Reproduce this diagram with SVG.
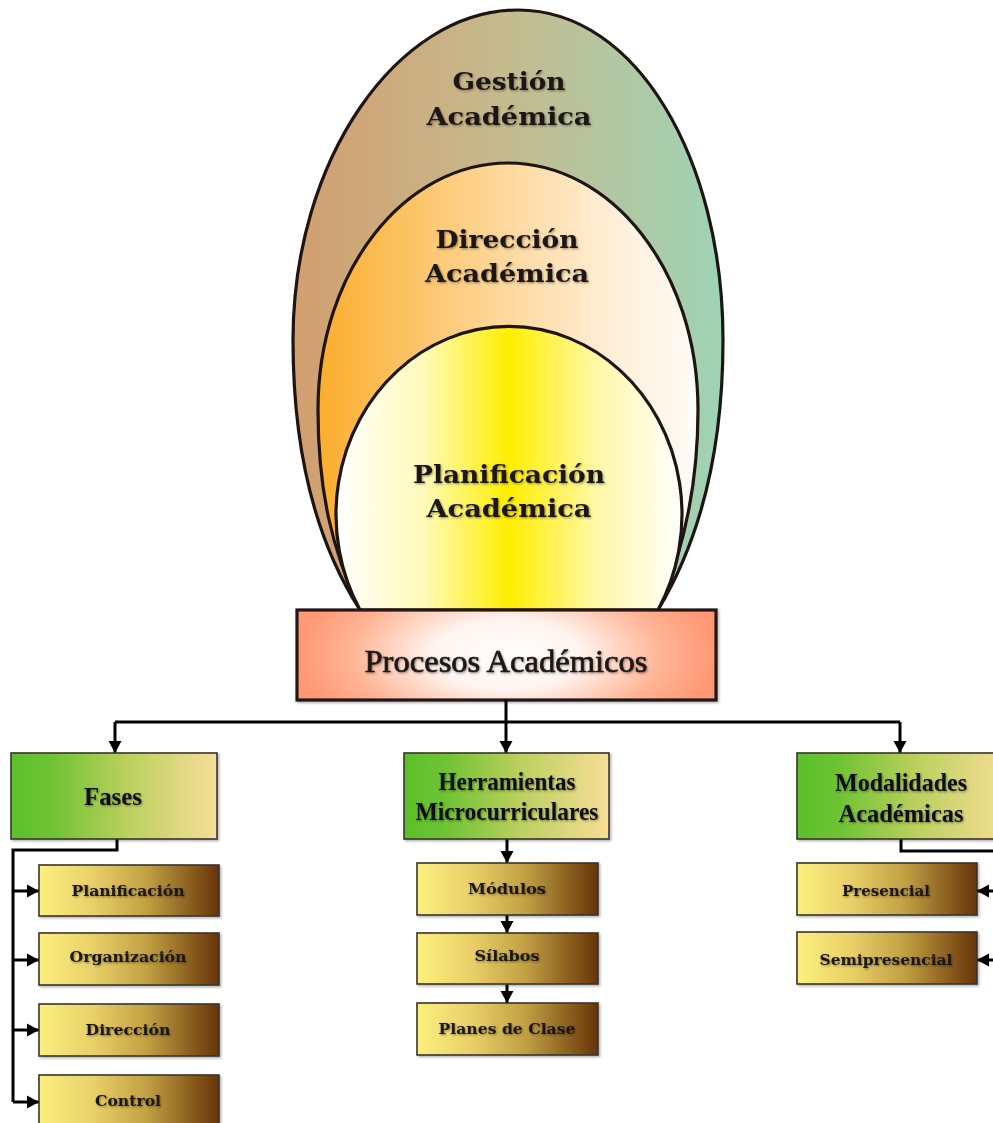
<svg xmlns="http://www.w3.org/2000/svg" width="993" height="1123" viewBox="0 0 993 1123">
<style>
.sh{stroke:#1e1512;stroke-width:3.2;stroke-linejoin:round}
.big{font-family:"DejaVu Serif","Liberation Serif",serif;font-weight:bold;font-size:25px;fill:#1f1813;text-anchor:middle}
.proc{font-family:"Liberation Serif",serif;font-size:32px;fill:#1f1813;stroke:#1f1813;stroke-width:0.7;text-anchor:middle}
.hd{font-family:"Liberation Serif",serif;font-weight:bold;font-size:25px;fill:#111;text-anchor:middle}
.sm{font-family:"DejaVu Serif","Liberation Serif",serif;font-weight:bold;font-size:15px;fill:#1a1510;text-anchor:middle}
.gbox{fill:url(#gGreen);stroke:#3a3530;stroke-width:1.6}
.cbox{fill:url(#gBrown);stroke:#3a3530;stroke-width:1.6}
.con{fill:none;stroke:#000;stroke-width:3}
</style>
<defs>
<linearGradient id="gOuter" x1="0" y1="0" x2="1" y2="0">
<stop offset="0" stop-color="#d29e6f"/><stop offset="0.5" stop-color="#c5bb8f"/><stop offset="1" stop-color="#9ed3b5"/>
</linearGradient>
<linearGradient id="gMid" x1="0" y1="0" x2="1" y2="0">
<stop offset="0" stop-color="#fbae2e"/><stop offset="0.45" stop-color="#fdd594"/><stop offset="0.8" stop-color="#fff0dc"/><stop offset="1" stop-color="#fffcf8"/>
</linearGradient>
<linearGradient id="gIn" x1="0" y1="0" x2="1" y2="0">
<stop offset="0" stop-color="#ffffff"/><stop offset="0.25" stop-color="#fffbbb"/><stop offset="0.5" stop-color="#ffee00"/><stop offset="0.75" stop-color="#fff8a6"/><stop offset="1" stop-color="#ffffff"/>
</linearGradient>
<radialGradient id="gProc" cx="0.5" cy="0.5" r="0.5" gradientTransform="translate(0.5 0.5) scale(1 2.2) translate(-0.5 -0.5)">
<stop offset="0" stop-color="#ffffff"/><stop offset="0.35" stop-color="#fff4ef"/><stop offset="0.75" stop-color="#ffb394"/><stop offset="1" stop-color="#ff9874"/>
</radialGradient>
<linearGradient id="gGreen" x1="0" y1="0" x2="1" y2="0">
<stop offset="0" stop-color="#5cbf2a"/><stop offset="0.2" stop-color="#6fc333"/><stop offset="0.55" stop-color="#b9cf5c"/><stop offset="1" stop-color="#f7de98"/>
</linearGradient>
<linearGradient id="gBrown" x1="0" y1="0" x2="1" y2="0">
<stop offset="0" stop-color="#fcf07f"/><stop offset="0.3" stop-color="#e9d068"/><stop offset="0.6" stop-color="#c1a043"/><stop offset="1" stop-color="#673408"/>
</linearGradient>
<filter id="ts" x="-10%" y="-30%" width="130%" height="170%">
<feDropShadow dx="1" dy="1.2" stdDeviation="0.9" flood-color="#000" flood-opacity="0.4"/>
</filter>
<filter id="bs" x="-5%" y="-10%" width="115%" height="130%">
<feDropShadow dx="1.5" dy="1.5" stdDeviation="1" flood-color="#000" flood-opacity="0.3"/>
</filter>
<marker id="arr" markerWidth="15" markerHeight="15" refX="12" refY="7.5" orient="auto" markerUnits="userSpaceOnUse">
<path d="M0,1 L12,7.5 L0,14 Z" fill="#000"/>
</marker>
</defs>

<g id="gestion">
<path class="sh" fill="url(#gOuter)" d="M360,610 C315,540 293,450 293,340 C293,160 397,10 518,10 C637,10 723,160 723,340 C723,450 700,540 658,610 Z"/>
<text class="big" filter="url(#ts)" x="509" y="90" textLength="113" lengthAdjust="spacingAndGlyphs">Gestión</text>
<text class="big" filter="url(#ts)" x="509" y="125" textLength="165" lengthAdjust="spacingAndGlyphs">Académica</text>
</g>

<g id="direccion">
<path class="sh" fill="url(#gMid)" d="M360,610 C332,550 318,490 318,410 C318,270 405,163 508,163 C611,163 698,270 698,410 C698,485 684,550 658,610 Z"/>
<text class="big" filter="url(#ts)" x="507" y="248" textLength="143" lengthAdjust="spacingAndGlyphs">Dirección</text>
<text class="big" filter="url(#ts)" x="507" y="282" textLength="164" lengthAdjust="spacingAndGlyphs">Académica</text>
</g>

<g id="planificacion">
<path class="sh" fill="url(#gIn)" d="M360,610 A173,188 0 1 1 658,610 Z"/>
<text class="big" filter="url(#ts)" x="509" y="483" textLength="192" lengthAdjust="spacingAndGlyphs">Planificación</text>
<text class="big" filter="url(#ts)" x="509" y="517" textLength="165" lengthAdjust="spacingAndGlyphs">Académica</text>
</g>

<g id="procesos">
<rect x="297" y="610" width="419" height="90" fill="url(#gProc)" stroke="#231815" stroke-width="3.2" filter="url(#bs)"/>
<text class="proc" filter="url(#ts)" x="506" y="672" textLength="283" lengthAdjust="spacingAndGlyphs">Procesos Académicos</text>
</g>

<g id="connectors">
<path class="con" d="M115,722 H900"/>
<path class="con" d="M506,700 V753" marker-end="url(#arr)"/>
<path class="con" d="M115,722 V753" marker-end="url(#arr)"/>
<path class="con" d="M900,722 V753" marker-end="url(#arr)"/>
<path class="con" d="M117,839 V850 H13 V1102"/>
<path class="con" d="M13,891 H39" marker-end="url(#arr)"/>
<path class="con" d="M13,960 H39" marker-end="url(#arr)"/>
<path class="con" d="M13,1030 H39" marker-end="url(#arr)"/>
<path class="con" d="M13,1102 H39" marker-end="url(#arr)"/>
<path class="con" d="M507,839 V863" marker-end="url(#arr)"/>
<path class="con" d="M507,915 V933" marker-end="url(#arr)"/>
<path class="con" d="M507,984 V1003" marker-end="url(#arr)"/>
<path class="con" d="M901,839 V851 H1000"/>
<path class="con" d="M1000,891 H977" marker-end="url(#arr)"/>
<path class="con" d="M1000,960 H977" marker-end="url(#arr)"/>
</g>

<g id="fases">
<rect class="gbox" x="11" y="753" width="206" height="86" filter="url(#bs)"/>
<text class="hd" filter="url(#ts)" x="113" y="805" textLength="58" lengthAdjust="spacingAndGlyphs">Fases</text>
</g>
<g id="herramientas">
<rect class="gbox" x="404" y="753" width="205" height="86" filter="url(#bs)"/>
<text class="hd" filter="url(#ts)" x="507" y="790" textLength="137" lengthAdjust="spacingAndGlyphs">Herramientas</text>
<text class="hd" filter="url(#ts)" x="507" y="820" textLength="183" lengthAdjust="spacingAndGlyphs">Microcurriculares</text>
</g>
<g id="modalidades">
<rect class="gbox" x="797" y="753" width="212" height="86" filter="url(#bs)"/>
<text class="hd" filter="url(#ts)" x="901" y="791" textLength="132" lengthAdjust="spacingAndGlyphs">Modalidades</text>
<text class="hd" filter="url(#ts)" x="901" y="822" textLength="125" lengthAdjust="spacingAndGlyphs">Académicas</text>
</g>

<g id="fase-planificacion">
<rect class="cbox" x="39" y="865" width="180" height="51" filter="url(#bs)"/>
<text class="sm" filter="url(#ts)" x="128" y="896" textLength="113" lengthAdjust="spacingAndGlyphs">Planificación</text>
</g>
<g id="fase-organizacion">
<rect class="cbox" x="39" y="933" width="180" height="52" filter="url(#bs)"/>
<text class="sm" filter="url(#ts)" x="128" y="962" textLength="117" lengthAdjust="spacingAndGlyphs">Organización</text>
</g>
<g id="fase-direccion">
<rect class="cbox" x="39" y="1004" width="180" height="52" filter="url(#bs)"/>
<text class="sm" filter="url(#ts)" x="128" y="1035" textLength="85" lengthAdjust="spacingAndGlyphs">Dirección</text>
</g>
<g id="fase-control">
<rect class="cbox" x="39" y="1075" width="180" height="52" filter="url(#bs)"/>
<text class="sm" filter="url(#ts)" x="128" y="1106" textLength="66" lengthAdjust="spacingAndGlyphs">Control</text>
</g>

<g id="modulos">
<rect class="cbox" x="417" y="863" width="181" height="52" filter="url(#bs)"/>
<text class="sm" filter="url(#ts)" x="507" y="894" textLength="78" lengthAdjust="spacingAndGlyphs">Módulos</text>
</g>
<g id="silabos">
<rect class="cbox" x="417" y="933" width="181" height="51" filter="url(#bs)"/>
<text class="sm" filter="url(#ts)" x="507" y="961" textLength="65" lengthAdjust="spacingAndGlyphs">Sílabos</text>
</g>
<g id="planes">
<rect class="cbox" x="417" y="1003" width="181" height="52" filter="url(#bs)"/>
<text class="sm" filter="url(#ts)" x="507" y="1034" textLength="137" lengthAdjust="spacingAndGlyphs">Planes de Clase</text>
</g>

<g id="presencial">
<rect class="cbox" x="797" y="863" width="180" height="52" filter="url(#bs)"/>
<text class="sm" filter="url(#ts)" x="886" y="896" textLength="88" lengthAdjust="spacingAndGlyphs">Presencial</text>
</g>
<g id="semipresencial">
<rect class="cbox" x="797" y="932" width="180" height="52" filter="url(#bs)"/>
<text class="sm" filter="url(#ts)" x="886" y="965" textLength="133" lengthAdjust="spacingAndGlyphs">Semipresencial</text>
</g>
</svg>
